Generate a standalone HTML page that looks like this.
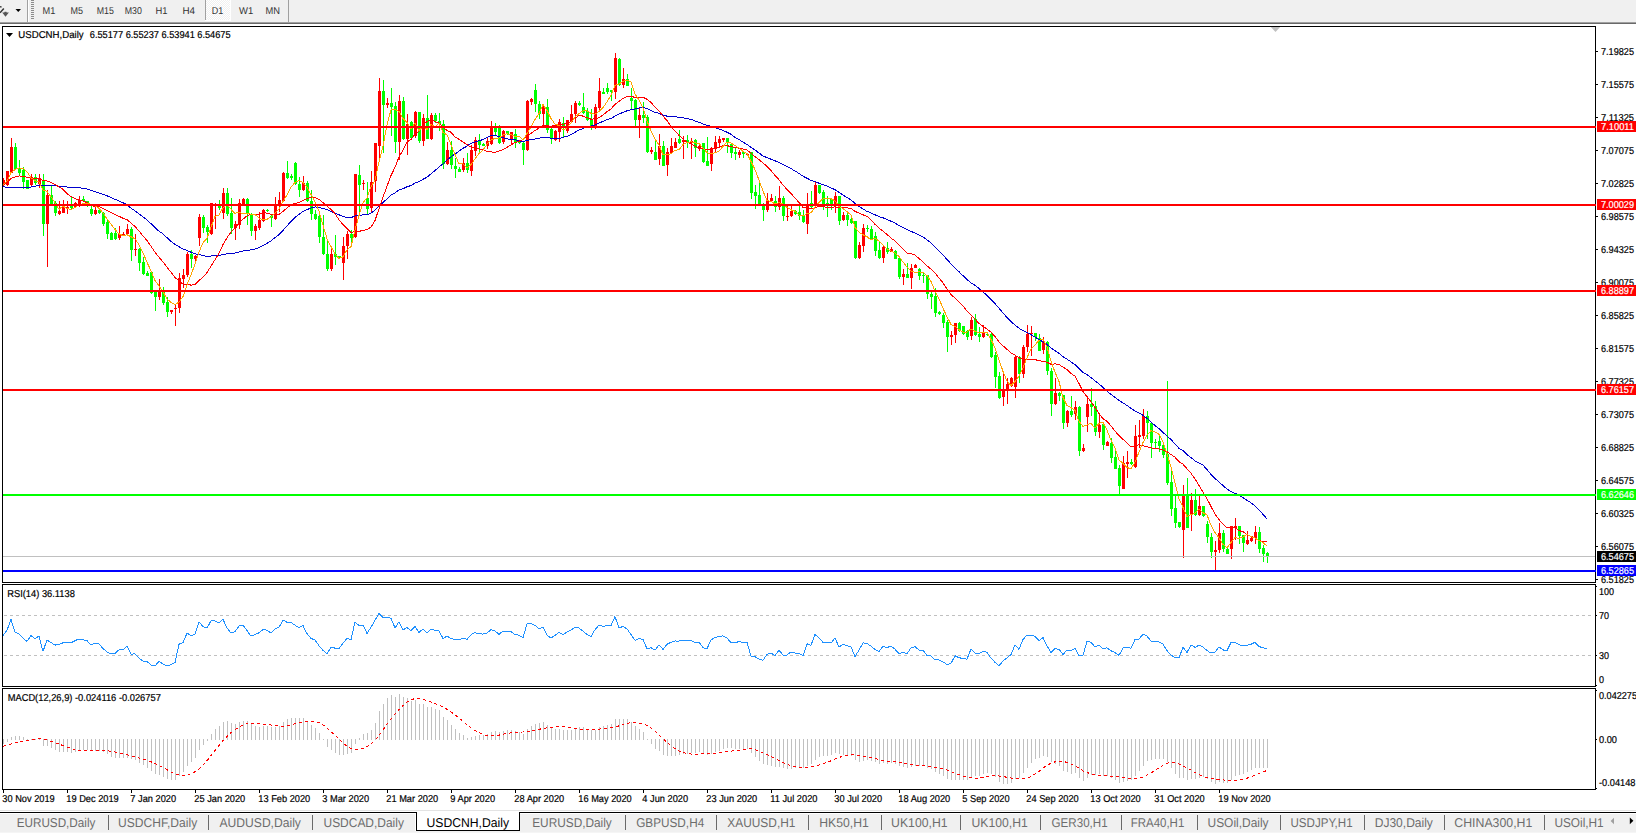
<!DOCTYPE html><html><head><meta charset="utf-8"><style>html,body{margin:0;padding:0;background:#fff;overflow:hidden}svg{display:block}text{font-family:"Liberation Sans", Arial, sans-serif;text-rendering:geometricPrecision}</style></head><body><svg width="1636" height="833" viewBox="0 0 1636 833"><rect width="1636" height="833" fill="#fff"/><rect x="0" y="0" width="1636" height="22" fill="#f0f0f0"/><rect x="0" y="22" width="1636" height="1" fill="#a0a0a0"/><rect x="0" y="23" width="1636" height="1" fill="#696969"/><path d="M0 12.8 L3.8 8.4" stroke="#333" stroke-width="1.5" fill="none"/><path d="M0 6 L1.8 6.4 L1.6 7.6 L0 7.4 Z" fill="#333"/><path d="M2.2 12.4 L4.3 12.4 L4.6 11.8 L6.4 11.8 L6.7 12.4 L8.9 12.4 L5.5 16.8 Z" fill="#555"/><path d="M15.5 9 L21 9 L18.25 12 Z" fill="#000"/><rect x="27" y="0" width="1" height="22" fill="#a0a0a0"/><rect x="28" y="0" width="1" height="22" fill="#ffffff"/><rect x="31" y="0" width="3" height="1" fill="#8c8c8c"/><rect x="31" y="2" width="3" height="1" fill="#8c8c8c"/><rect x="31" y="4" width="3" height="1" fill="#8c8c8c"/><rect x="31" y="6" width="3" height="1" fill="#8c8c8c"/><rect x="31" y="8" width="3" height="1" fill="#8c8c8c"/><rect x="31" y="10" width="3" height="1" fill="#8c8c8c"/><rect x="31" y="12" width="3" height="1" fill="#8c8c8c"/><rect x="31" y="14" width="3" height="1" fill="#8c8c8c"/><rect x="31" y="16" width="3" height="1" fill="#8c8c8c"/><rect x="31" y="18" width="3" height="1" fill="#8c8c8c"/><defs><pattern id="chk" width="2" height="2" patternUnits="userSpaceOnUse"><rect width="2" height="2" fill="#f0f0f0"/><rect width="1" height="1" fill="#fff"/><rect x="1" y="1" width="1" height="1" fill="#fff"/></pattern></defs><rect x="206" y="0" width="24" height="20" fill="url(#chk)"/><rect x="205" y="20" width="26" height="1" fill="#ffffff"/><rect x="230" y="0" width="1" height="21" fill="#ffffff"/><rect x="205" y="0" width="1" height="20" fill="#a0a0a0"/><rect x="288" y="0" width="1" height="22" fill="#a0a0a0"/><text x="42.5" y="14" font-size="10" fill="#333" textLength="12.8" lengthAdjust="spacingAndGlyphs">M1</text><text x="70.6" y="14" font-size="10" fill="#333" textLength="12.5" lengthAdjust="spacingAndGlyphs">M5</text><text x="96.8" y="14" font-size="10" fill="#333" textLength="17.1" lengthAdjust="spacingAndGlyphs">M15</text><text x="124.7" y="14" font-size="10" fill="#333" textLength="17.1" lengthAdjust="spacingAndGlyphs">M30</text><text x="155.5" y="14" font-size="10" fill="#333" textLength="12" lengthAdjust="spacingAndGlyphs">H1</text><text x="182.4" y="14" font-size="10" fill="#333" textLength="12.6" lengthAdjust="spacingAndGlyphs">H4</text><text x="211.7" y="14" font-size="10" fill="#333" textLength="11.5" lengthAdjust="spacingAndGlyphs">D1</text><text x="239" y="14" font-size="10" fill="#333" textLength="14.2" lengthAdjust="spacingAndGlyphs">W1</text><text x="265.6" y="14" font-size="10" fill="#333" textLength="14.5" lengthAdjust="spacingAndGlyphs">MN</text><rect x="3" y="27" width="1592" height="555" fill="#ffffff"/><g fill="none" stroke="#000" stroke-width="1" shape-rendering="crispEdges"><path d="M2.5 582.5 V26.5 H1595.5 V582.5 Z"/><path d="M2.5 686.5 V584.5 H1595.5 V686.5 Z"/><path d="M2.5 789.5 V688.5 H1595.5 V789.5 Z"/></g><defs><clipPath id="cm"><rect x="3" y="27" width="1592" height="555"/></clipPath><clipPath id="cr"><rect x="3" y="585" width="1592" height="101"/></clipPath><clipPath id="cd"><rect x="3" y="689" width="1592" height="100"/></clipPath></defs><g clip-path="url(#cm)" shape-rendering="crispEdges"><path fill="#ff0000" d="M3 178h1v8h-1zM2 180h3v5h-3zM7 171h1v15h-1zM6 171h3v14h-3zM11 138h1v35h-1zM10 147h3v26h-3zM31 174h1v12h-1zM30 177h3v8h-3zM39 174h1v14h-1zM38 179h3v5h-3zM47 190h1v77h-1zM46 195h3v29h-3zM59 201h1v14h-1zM58 211h3v3h-3zM63 200h1v13h-1zM62 207h3v6h-3zM67 201h1v13h-1zM66 207h3v1h-3zM75 202h1v5h-1zM74 203h3v4h-3zM79 196h1v11h-1zM78 200h3v4h-3zM95 206h1v9h-1zM94 210h3v4h-3zM119 226h1v14h-1zM118 234h3v4h-3zM123 232h1v4h-1zM122 234h3v1h-3zM127 224h1v12h-1zM126 229h3v5h-3zM135 234h1v22h-1zM134 249h3v1h-3zM159 279h1v21h-1zM158 291h3v6h-3zM171 310h1v4h-1zM170 310h3v2h-3zM175 305h1v21h-1zM174 308h3v1h-3zM179 273h1v40h-1zM178 278h3v30h-3zM183 269h1v19h-1zM182 275h3v4h-3zM187 252h1v25h-1zM186 254h3v21h-3zM195 255h1v6h-1zM194 256h3v3h-3zM199 214h1v32h-1zM198 217h3v21h-3zM211 203h1v32h-1zM210 203h3v31h-3zM215 203h1v26h-1zM214 204h3v1h-3zM223 188h1v31h-1zM222 193h3v20h-3zM235 221h1v19h-1zM234 224h3v4h-3zM239 199h1v30h-1zM238 203h3v22h-3zM243 198h1v7h-1zM242 199h3v5h-3zM255 224h1v16h-1zM254 226h3v5h-3zM259 212h1v18h-1zM258 220h3v8h-3zM263 209h1v13h-1zM262 210h3v11h-3zM275 197h1v23h-1zM274 205h3v14h-3zM279 192h1v20h-1zM278 200h3v6h-3zM283 172h1v30h-1zM282 173h3v28h-3zM303 176h1v15h-1zM302 183h3v7h-3zM331 248h1v23h-1zM330 254h3v15h-3zM343 237h1v43h-1zM342 246h3v17h-3zM347 231h1v28h-1zM346 234h3v12h-3zM355 174h1v64h-1zM354 174h3v63h-3zM363 180h1v10h-1zM362 183h3v1h-3zM371 171h1v41h-1zM370 182h3v26h-3zM375 143h1v49h-1zM374 143h3v38h-3zM379 78h1v81h-1zM378 91h3v55h-3zM387 98h1v10h-1zM386 103h3v2h-3zM399 95h1v65h-1zM398 101h3v41h-3zM407 114h1v41h-1zM406 124h3v15h-3zM415 111h1v27h-1zM414 112h3v24h-3zM423 114h1v32h-1zM422 118h3v23h-3zM431 113h1v27h-1zM430 115h3v24h-3zM447 142h1v23h-1zM446 150h3v14h-3zM463 158h1v14h-1zM462 163h3v7h-3zM471 145h1v31h-1zM470 150h3v21h-3zM475 137h1v19h-1zM474 140h3v11h-3zM487 138h1v11h-1zM486 141h3v5h-3zM491 121h1v24h-1zM490 128h3v16h-3zM503 130h1v14h-1zM502 131h3v11h-3zM511 132h1v13h-1zM510 132h3v7h-3zM527 100h1v51h-1zM526 101h3v49h-3zM531 98h1v7h-1zM530 99h3v3h-3zM543 104h1v24h-1zM542 106h3v8h-3zM555 130h1v11h-1zM554 131h3v9h-3zM559 119h1v23h-1zM558 122h3v10h-3zM567 120h1v13h-1zM566 120h3v11h-3zM571 105h1v17h-1zM570 114h3v8h-3zM575 101h1v22h-1zM574 103h3v11h-3zM595 104h1v25h-1zM594 107h3v20h-3zM599 78h1v32h-1zM598 91h3v17h-3zM615 53h1v46h-1zM614 58h3v34h-3zM623 68h1v20h-1zM622 79h3v6h-3zM639 107h1v31h-1zM638 115h3v5h-3zM651 147h1v7h-1zM650 150h3v2h-3zM659 134h1v31h-1zM658 146h3v13h-3zM667 148h1v28h-1zM666 152h3v13h-3zM671 138h1v16h-1zM670 146h3v7h-3zM675 138h1v10h-1zM674 142h3v6h-3zM683 136h1v23h-1zM682 140h3v2h-3zM691 138h1v21h-1zM690 141h3v2h-3zM699 145h1v6h-1zM698 146h3v3h-3zM711 147h1v24h-1zM710 148h3v16h-3zM715 136h1v16h-1zM714 142h3v6h-3zM719 136h1v12h-1zM718 139h3v4h-3zM723 138h1v4h-1zM722 138h3v2h-3zM739 150h1v8h-1zM738 152h3v3h-3zM747 153h1v3h-1zM746 154h3v1h-3zM767 193h1v19h-1zM766 200h3v10h-3zM771 194h1v7h-1zM770 198h3v3h-3zM779 186h1v24h-1zM778 198h3v9h-3zM787 206h1v15h-1zM786 216h3v1h-3zM791 204h1v13h-1zM790 211h3v5h-3zM807 193h1v41h-1zM806 204h3v20h-3zM815 182h1v25h-1zM814 185h3v21h-3zM835 192h1v21h-1zM834 196h3v8h-3zM843 212h1v9h-1zM842 215h3v5h-3zM859 242h1v17h-1zM858 245h3v13h-3zM863 224h1v28h-1zM862 228h3v18h-3zM883 246h1v17h-1zM882 247h3v11h-3zM891 247h1v5h-1zM890 249h3v3h-3zM903 269h1v16h-1zM902 274h3v3h-3zM911 264h1v25h-1zM910 268h3v10h-3zM915 264h1v4h-1zM914 265h3v3h-3zM951 331h1v14h-1zM950 335h3v2h-3zM955 323h1v20h-1zM954 323h3v12h-3zM971 317h1v23h-1zM970 320h3v16h-3zM983 325h1v13h-1zM982 333h3v4h-3zM1003 374h1v32h-1zM1002 390h3v7h-3zM1007 378h1v26h-1zM1006 384h3v7h-3zM1011 377h1v10h-1zM1010 378h3v8h-3zM1015 355h1v43h-1zM1014 357h3v30h-3zM1023 345h1v33h-1zM1022 347h3v27h-3zM1027 325h1v27h-1zM1026 334h3v13h-3zM1031 326h1v30h-1zM1030 333h3v1h-3zM1043 337h1v17h-1zM1042 342h3v8h-3zM1055 378h1v27h-1zM1054 393h3v11h-3zM1067 410h1v17h-1zM1066 411h3v12h-3zM1075 401h1v19h-1zM1074 407h3v7h-3zM1083 444h1v8h-1zM1082 448h3v3h-3zM1087 396h1v36h-1zM1086 404h3v13h-3zM1099 414h1v24h-1zM1098 425h3v7h-3zM1107 441h1v5h-1zM1106 442h3v4h-3zM1123 456h1v33h-1zM1122 463h3v26h-3zM1127 451h1v27h-1zM1126 462h3v2h-3zM1135 425h1v43h-1zM1134 436h3v31h-3zM1139 420h1v28h-1zM1138 435h3v2h-3zM1143 409h1v30h-1zM1142 416h3v20h-3zM1183 485h1v73h-1zM1182 496h3v34h-3zM1191 493h1v38h-1zM1190 500h3v14h-3zM1199 496h1v20h-1zM1198 506h3v9h-3zM1215 541h1v29h-1zM1214 550h3v2h-3zM1219 523h1v30h-1zM1218 533h3v17h-3zM1231 526h1v33h-1zM1230 526h3v23h-3zM1235 518h1v22h-1zM1234 526h3v2h-3zM1247 531h1v14h-1zM1246 540h3v4h-3zM1251 537h1v5h-1zM1250 538h3v3h-3zM1255 526h1v18h-1zM1254 532h3v6h-3z"/><path fill="#00ff00" d="M15 143h1v27h-1zM14 147h3v22h-3zM19 160h1v16h-1zM18 168h3v5h-3zM23 167h1v22h-1zM22 170h3v12h-3zM27 180h1v9h-1zM26 180h3v9h-3zM35 174h1v11h-1zM34 177h3v6h-3zM43 174h1v62h-1zM42 180h3v44h-3zM51 186h1v18h-1zM50 195h3v9h-3zM55 201h1v15h-1zM54 203h3v10h-3zM71 197h1v12h-1zM70 204h3v4h-3zM83 196h1v6h-1zM82 199h3v2h-3zM87 201h1v6h-1zM86 201h3v2h-3zM91 206h1v10h-1zM90 209h3v5h-3zM99 209h1v5h-1zM98 210h3v3h-3zM103 212h1v14h-1zM102 213h3v11h-3zM107 219h1v20h-1zM106 222h3v12h-3zM111 232h1v8h-1zM110 233h3v7h-3zM115 228h1v12h-1zM114 233h3v6h-3zM131 227h1v34h-1zM130 229h3v21h-3zM139 248h1v23h-1zM138 249h3v14h-3zM143 257h1v18h-1zM142 262h3v12h-3zM147 271h1v5h-1zM146 273h3v3h-3zM151 272h1v22h-1zM150 272h3v21h-3zM155 292h1v19h-1zM154 292h3v5h-3zM163 287h1v18h-1zM162 292h3v11h-3zM167 297h1v20h-1zM166 302h3v10h-3zM191 250h1v18h-1zM190 254h3v5h-3zM203 215h1v18h-1zM202 217h3v11h-3zM207 225h1v18h-1zM206 227h3v5h-3zM219 200h1v10h-1zM218 206h3v2h-3zM227 188h1v28h-1zM226 193h3v21h-3zM231 198h1v36h-1zM230 213h3v15h-3zM247 198h1v27h-1zM246 199h3v15h-3zM251 213h1v23h-1zM250 214h3v17h-3zM267 209h1v3h-1zM266 210h3v1h-3zM271 214h1v13h-1zM270 216h3v2h-3zM287 161h1v18h-1zM286 173h3v5h-3zM291 174h1v6h-1zM290 176h3v2h-3zM295 162h1v23h-1zM294 163h3v21h-3zM299 177h1v20h-1zM298 184h3v6h-3zM307 181h1v21h-1zM306 183h3v18h-3zM311 190h1v30h-1zM310 201h3v13h-3zM315 210h1v10h-1zM314 214h3v5h-3zM319 213h1v30h-1zM318 216h3v21h-3zM323 215h1v40h-1zM322 237h3v17h-3zM327 241h1v30h-1zM326 254h3v15h-3zM335 235h1v30h-1zM334 254h3v3h-3zM339 256h1v3h-1zM338 256h3v2h-3zM351 230h1v13h-1zM350 234h3v4h-3zM359 165h1v49h-1zM358 175h3v10h-3zM367 182h1v32h-1zM366 198h3v11h-3zM383 80h1v73h-1zM382 91h3v14h-3zM391 88h1v48h-1zM390 103h3v4h-3zM395 102h1v51h-1zM394 106h3v36h-3zM403 97h1v43h-1zM402 101h3v38h-3zM411 121h1v18h-1zM410 122h3v16h-3zM419 112h1v31h-1zM418 112h3v29h-3zM427 95h1v44h-1zM426 118h3v21h-3zM435 113h1v10h-1zM434 115h3v6h-3zM439 113h1v18h-1zM438 121h3v3h-3zM443 120h1v49h-1zM442 124h3v40h-3zM451 141h1v28h-1zM450 150h3v15h-3zM455 158h1v20h-1zM454 166h3v3h-3zM459 167h1v5h-1zM458 169h3v3h-3zM467 153h1v20h-1zM466 163h3v7h-3zM479 134h1v19h-1zM478 140h3v5h-3zM483 143h1v3h-1zM482 144h3v2h-3zM495 123h1v13h-1zM494 128h3v4h-3zM499 125h1v19h-1zM498 128h3v15h-3zM507 131h1v4h-1zM506 131h3v3h-3zM515 129h1v19h-1zM514 134h3v8h-3zM519 140h1v4h-1zM518 140h3v3h-3zM523 142h1v23h-1zM522 143h3v7h-3zM535 84h1v28h-1zM534 90h3v14h-3zM539 101h1v18h-1zM538 104h3v10h-3zM547 99h1v34h-1zM546 107h3v23h-3zM551 128h1v16h-1zM550 129h3v10h-3zM563 117h1v20h-1zM562 123h3v5h-3zM579 101h1v5h-1zM578 103h3v2h-3zM583 93h1v21h-1zM582 107h3v6h-3zM587 108h1v13h-1zM586 111h3v9h-3zM591 109h1v21h-1zM590 120h3v6h-3zM603 88h1v6h-1zM602 92h3v2h-3zM607 83h1v11h-1zM606 88h3v4h-3zM611 90h1v11h-1zM610 90h3v2h-3zM619 58h1v28h-1zM618 59h3v26h-3zM627 74h1v12h-1zM626 79h3v7h-3zM631 88h1v22h-1zM630 98h3v3h-3zM635 99h1v27h-1zM634 100h3v20h-3zM643 102h1v21h-1zM642 115h3v3h-3zM647 115h1v38h-1zM646 117h3v35h-3zM655 139h1v21h-1zM654 152h3v8h-3zM663 141h1v25h-1zM662 146h3v20h-3zM679 130h1v14h-1zM678 139h3v4h-3zM687 135h1v13h-1zM686 140h3v3h-3zM695 139h1v18h-1zM694 140h3v8h-3zM703 143h1v20h-1zM702 143h3v19h-3zM707 137h1v29h-1zM706 161h3v5h-3zM727 138h1v15h-1zM726 138h3v5h-3zM731 143h1v15h-1zM730 144h3v9h-3zM735 148h1v12h-1zM734 152h3v2h-3zM743 151h1v7h-1zM742 152h3v2h-3zM751 152h1v47h-1zM750 152h3v41h-3zM755 185h1v24h-1zM754 192h3v4h-3zM759 183h1v22h-1zM758 195h3v9h-3zM763 203h1v18h-1zM762 204h3v6h-3zM775 196h1v16h-1zM774 201h3v6h-3zM783 196h1v25h-1zM782 198h3v18h-3zM795 210h1v5h-1zM794 211h3v3h-3zM799 206h1v14h-1zM798 212h3v4h-3zM803 210h1v13h-1zM802 215h3v7h-3zM811 191h1v17h-1zM810 203h3v4h-3zM819 185h1v9h-1zM818 185h3v8h-3zM823 190h1v20h-1zM822 192h3v13h-3zM827 196h1v21h-1zM826 203h3v1h-3zM831 198h1v12h-1zM830 199h3v7h-3zM839 196h1v29h-1zM838 196h3v25h-3zM847 212h1v14h-1zM846 215h3v5h-3zM851 216h1v8h-1zM850 219h3v4h-3zM855 221h1v38h-1zM854 221h3v37h-3zM867 225h1v7h-1zM866 228h3v1h-3zM871 226h1v13h-1zM870 229h3v10h-3zM875 232h1v24h-1zM874 236h3v15h-3zM879 241h1v18h-1zM878 250h3v8h-3zM887 242h1v12h-1zM886 248h3v4h-3zM895 250h1v9h-1zM894 251h3v8h-3zM899 258h1v21h-1zM898 258h3v19h-3zM907 263h1v15h-1zM906 274h3v4h-3zM919 268h1v12h-1zM918 269h3v7h-3zM923 272h1v11h-1zM922 275h3v1h-3zM927 275h1v24h-1zM926 275h3v19h-3zM931 292h1v17h-1zM930 294h3v3h-3zM935 288h1v29h-1zM934 296h3v17h-3zM939 311h1v4h-1zM938 312h3v2h-3zM943 313h1v15h-1zM942 315h3v8h-3zM947 320h1v32h-1zM946 322h3v15h-3zM959 322h1v10h-1zM958 323h3v8h-3zM963 326h1v9h-1zM962 326h3v8h-3zM967 330h1v10h-1zM966 331h3v6h-3zM975 314h1v22h-1zM974 319h3v16h-3zM979 327h1v15h-1zM978 334h3v3h-3zM987 332h1v4h-1zM986 334h3v1h-3zM991 332h1v26h-1zM990 334h3v23h-3zM995 352h1v36h-1zM994 355h3v22h-3zM999 372h1v27h-1zM998 376h3v22h-3zM1019 356h1v27h-1zM1018 357h3v17h-3zM1035 333h1v8h-1zM1034 333h3v4h-3zM1039 334h1v17h-1zM1038 338h3v13h-3zM1047 341h1v34h-1zM1046 342h3v29h-3zM1051 368h1v48h-1zM1050 371h3v33h-3zM1059 392h1v9h-1zM1058 393h3v3h-3zM1063 395h1v34h-1zM1062 395h3v28h-3zM1071 396h1v21h-1zM1070 411h3v4h-3zM1079 406h1v50h-1zM1078 407h3v44h-3zM1091 388h1v28h-1zM1090 404h3v3h-3zM1095 401h1v35h-1zM1094 406h3v26h-3zM1103 424h1v26h-1zM1102 424h3v21h-3zM1111 438h1v25h-1zM1110 443h3v15h-3zM1115 451h1v18h-1zM1114 457h3v12h-3zM1119 465h1v29h-1zM1118 468h3v18h-3zM1131 459h1v6h-1zM1130 462h3v2h-3zM1147 411h1v28h-1zM1146 416h3v7h-3zM1151 422h1v36h-1zM1150 423h3v20h-3zM1155 439h1v9h-1zM1154 442h3v1h-3zM1159 436h1v16h-1zM1158 441h3v5h-3zM1163 443h1v15h-1zM1162 445h3v10h-3zM1167 381h1v104h-1zM1166 454h3v29h-3zM1171 469h1v47h-1zM1170 482h3v27h-3zM1175 496h1v32h-1zM1174 508h3v15h-3zM1179 522h1v6h-1zM1178 522h3v5h-3zM1187 478h1v50h-1zM1186 496h3v32h-3zM1195 489h1v27h-1zM1194 500h3v15h-3zM1203 506h1v11h-1zM1202 506h3v10h-3zM1207 521h1v22h-1zM1206 524h3v13h-3zM1211 533h1v25h-1zM1210 537h3v15h-3zM1223 530h1v22h-1zM1222 533h3v16h-3zM1227 548h1v6h-1zM1226 549h3v5h-3zM1239 526h1v18h-1zM1238 526h3v10h-3zM1243 535h1v17h-1zM1242 535h3v8h-3zM1259 527h1v26h-1zM1258 532h3v17h-3zM1263 545h1v17h-1zM1262 548h3v6h-3zM1267 552h1v11h-1zM1266 553h3v4h-3z"/></g><g clip-path="url(#cm)" fill="none" stroke-width="1" shape-rendering="crispEdges"><polyline stroke="#0000cd" points="3,186.6 7,187.3 11,187.1 15,187.4 19,187.5 23,187.6 27,187.7 31,187.0 35,186.3 39,185.2 43,185.6 47,185.0 51,185.0 55,185.5 59,186.1 63,186.6 67,187.0 71,187.3 75,187.5 79,187.7 83,188.2 87,189.0 91,190.3 95,191.7 99,193.0 103,194.4 107,195.8 111,197.5 115,199.3 119,201.0 123,202.8 127,204.7 131,208.2 135,210.8 139,213.8 143,216.9 147,219.8 151,223.7 155,227.5 159,231.2 163,233.8 167,237.7 171,241.3 175,244.4 179,246.7 183,248.9 187,250.5 191,252.2 195,253.9 199,254.5 203,255.4 207,256.4 211,256.0 215,255.8 219,255.6 223,254.6 227,253.9 231,253.5 235,253.0 239,252.0 243,250.9 247,250.4 251,249.8 255,249.0 259,247.6 263,245.4 267,243.3 271,240.8 275,237.7 279,234.7 283,230.4 287,225.9 291,221.5 295,217.4 299,214.4 303,211.4 307,209.6 311,208.1 315,206.9 319,207.6 323,208.5 327,209.7 331,211.4 335,213.2 339,214.8 343,216.6 347,217.3 351,217.6 355,216.0 359,215.4 363,214.8 367,214.7 371,213.0 375,210.3 379,206.0 383,202.5 387,198.9 391,195.2 395,193.1 399,189.8 403,188.7 407,186.8 411,185.5 415,183.1 419,181.5 423,179.3 427,177.2 431,173.9 435,170.6 439,166.9 443,163.8 447,159.9 451,156.9 455,154.0 459,151.1 463,148.3 467,146.2 471,143.3 475,142.1 479,140.8 483,139.5 487,137.3 491,135.5 495,135.1 499,136.9 503,137.7 507,138.8 511,139.6 515,139.6 519,141.0 523,141.3 527,140.6 531,139.3 535,139.0 539,138.1 543,137.7 547,137.4 551,138.3 555,138.6 559,138.5 563,137.3 567,136.3 571,134.6 575,132.3 579,130.1 583,128.5 587,126.8 591,126.0 595,124.9 599,123.1 603,121.4 607,119.7 611,118.5 615,116.1 619,114.1 623,112.4 627,110.8 631,109.7 635,109.0 639,108.1 643,107.0 647,108.7 651,110.4 655,112.3 659,113.3 663,115.3 667,116.1 671,116.3 675,116.7 679,117.4 683,117.8 687,118.5 691,119.4 695,120.9 699,122.3 703,124.0 707,125.5 711,126.2 715,127.4 719,129.0 723,130.5 727,132.2 731,134.2 735,137.4 739,139.6 743,142.1 747,144.4 751,147.5 755,150.0 759,153.0 763,156.0 767,157.6 771,159.2 775,160.8 779,162.6 783,164.3 787,166.4 791,168.6 795,171.0 799,173.4 803,176.2 807,178.2 811,180.4 815,181.7 819,183.2 823,184.7 827,185.9 831,187.9 835,189.7 839,192.4 843,195.0 847,197.5 851,199.9 855,203.3 859,206.4 863,208.9 867,211.4 871,212.9 875,214.8 879,216.6 883,217.8 887,219.6 891,221.2 895,222.9 899,225.6 903,227.5 907,229.5 911,231.4 915,233.1 919,235.1 923,236.8 927,239.9 931,242.8 935,247.1 939,251.2 943,255.1 947,259.5 951,263.8 955,268.0 959,271.7 963,275.7 967,279.6 971,282.8 975,285.4 979,288.4 983,291.9 987,295.4 991,299.4 995,303.6 999,308.3 1003,313.0 1007,317.4 1011,321.7 1015,325.0 1019,328.2 1023,330.7 1027,332.5 1031,334.7 1035,337.1 1039,339.6 1043,341.8 1047,344.4 1051,348.0 1055,350.7 1059,353.4 1063,356.7 1067,359.2 1071,361.9 1075,364.7 1079,368.7 1083,372.5 1087,374.7 1091,377.6 1095,380.8 1099,383.8 1103,387.5 1107,391.1 1111,394.4 1115,397.5 1119,400.4 1123,402.9 1127,405.5 1131,408.3 1135,411.0 1139,413.0 1143,415.3 1147,418.3 1151,422.0 1155,425.5 1159,428.7 1163,432.4 1167,436.1 1171,439.6 1175,443.9 1179,448.3 1183,450.7 1187,454.6 1191,457.5 1195,461.0 1199,462.9 1203,465.1 1207,469.6 1211,474.4 1215,478.4 1219,482.0 1223,485.5 1227,489.2 1231,491.5 1235,493.4 1239,495.1 1243,497.7 1247,500.3 1251,502.8 1255,506.0 1259,509.8 1263,514.4 1267,518.9"/><polyline stroke="#ff0000" points="3,184.4 7,182.4 11,178.6 15,176.9 19,176.0 23,176.1 27,177.2 31,177.7 35,178.4 39,178.2 43,180.4 47,180.9 51,182.2 55,184.6 59,186.8 63,189.4 67,193.7 71,196.5 75,198.7 79,200.0 83,200.9 87,202.7 91,204.9 95,207.2 99,206.4 103,208.5 107,210.6 111,212.5 115,214.5 119,216.3 123,218.2 127,219.7 131,223.0 135,226.5 139,230.9 143,236.0 147,240.4 151,246.3 155,252.3 159,257.1 163,262.0 167,267.2 171,272.3 175,277.6 179,280.8 183,284.1 187,284.4 191,285.1 195,284.6 199,280.5 203,277.1 207,272.7 211,266.1 215,259.8 219,253.1 223,244.6 227,237.7 231,232.0 235,228.1 239,223.0 243,219.1 247,215.9 251,214.0 255,214.7 259,214.1 263,212.6 267,213.1 271,214.2 275,214.0 279,214.5 283,211.5 287,207.9 291,204.7 295,203.3 299,202.7 303,200.5 307,198.4 311,197.5 315,197.5 319,199.4 323,202.6 327,206.1 331,209.6 335,213.7 339,219.8 343,224.7 347,228.7 351,232.5 355,231.4 359,231.5 363,230.2 367,229.8 371,227.1 375,220.5 379,208.8 383,197.1 387,186.3 391,175.6 395,167.3 399,157.0 403,150.2 407,142.0 411,139.4 415,134.2 419,131.2 423,124.7 427,121.6 431,119.5 435,121.7 439,123.1 443,127.4 447,130.5 451,132.2 455,137.0 459,139.3 463,142.1 467,144.4 471,147.2 475,147.1 479,149.0 483,149.5 487,151.4 491,151.9 495,152.5 499,151.0 503,149.6 507,147.4 511,144.8 515,142.6 519,141.2 523,139.8 527,136.3 531,133.4 535,130.4 539,128.1 543,125.6 547,125.8 551,126.3 555,125.4 559,124.7 563,124.3 567,123.4 571,121.4 575,118.5 579,115.3 583,116.1 587,117.7 591,119.2 595,118.8 599,117.7 603,115.1 607,111.7 611,109.0 615,104.4 619,101.4 623,98.5 627,96.5 631,96.3 635,97.4 639,97.5 643,97.3 647,99.2 651,102.3 655,107.2 659,110.9 663,116.2 667,120.5 671,126.7 675,130.8 679,135.3 683,139.2 687,142.2 691,143.7 695,146.1 699,148.1 703,148.8 707,150.0 711,149.1 715,148.8 719,146.9 723,145.9 727,145.7 731,146.5 735,147.4 739,148.2 743,149.0 747,149.9 751,153.2 755,156.7 759,159.7 763,162.8 767,166.5 771,170.6 775,175.4 779,179.7 783,185.0 787,189.5 791,193.5 795,198.0 799,202.4 803,207.4 807,208.1 811,209.0 815,207.6 819,206.4 823,206.8 827,207.2 831,207.1 835,207.0 839,207.3 843,207.2 847,207.8 851,208.4 855,211.4 859,213.0 863,214.8 867,216.3 871,220.1 875,224.3 879,228.1 883,231.1 887,234.4 891,238.1 895,240.9 899,245.3 903,249.1 907,253.0 911,253.7 915,255.1 919,258.5 923,261.8 927,265.8 931,269.1 935,273.1 939,277.9 943,282.9 947,289.2 951,294.6 955,298.0 959,302.0 963,306.0 967,311.0 971,314.9 975,319.2 979,323.5 983,326.3 987,329.0 991,332.1 995,336.6 999,342.0 1003,345.8 1007,349.3 1011,353.2 1015,355.1 1019,357.9 1023,358.7 1027,359.6 1031,359.5 1035,359.5 1039,360.8 1043,361.3 1047,362.3 1051,364.3 1055,363.9 1059,364.4 1063,367.2 1067,369.5 1071,373.6 1075,376.0 1079,383.5 1083,391.6 1087,396.7 1091,401.7 1095,407.4 1099,413.4 1103,418.6 1107,421.3 1111,425.9 1115,431.1 1119,435.6 1123,439.3 1127,442.7 1131,446.8 1135,445.7 1139,444.8 1143,445.6 1147,446.8 1151,447.6 1155,448.9 1159,449.0 1163,449.9 1167,451.7 1171,454.5 1175,457.2 1179,461.7 1183,464.2 1187,468.7 1191,473.3 1195,479.0 1199,485.4 1203,492.0 1207,498.7 1211,506.5 1215,514.0 1219,519.6 1223,524.3 1227,527.6 1231,527.8 1235,527.8 1239,530.6 1243,531.7 1247,534.6 1251,536.3 1255,538.1 1259,540.5 1263,541.7 1267,542.0"/><polyline stroke="#ffa500" points="3,185.0 7,180.9 11,172.6 15,169.5 19,167.9 23,168.3 27,171.8 31,177.8 35,180.6 39,181.8 43,190.2 47,191.4 51,196.8 55,202.8 59,209.3 63,206.1 67,208.5 71,209.4 75,207.4 79,205.0 83,203.8 87,203.1 91,204.3 95,205.7 99,208.4 103,212.8 107,218.9 111,224.0 115,229.6 119,233.8 123,235.8 127,234.8 131,236.8 135,238.8 139,244.7 143,252.8 147,262.2 151,270.9 155,280.4 159,286.0 163,291.7 167,299.0 171,302.4 175,304.6 179,302.1 183,296.6 187,285.0 191,274.7 195,264.4 199,252.1 203,242.7 207,238.3 211,227.2 215,216.6 219,214.9 223,207.9 227,204.3 231,209.3 235,213.3 239,212.4 243,213.6 247,213.6 251,214.1 255,214.5 259,217.9 263,220.0 267,219.4 271,216.9 275,212.8 279,208.8 283,201.5 287,194.9 291,186.9 295,182.6 299,180.5 303,182.6 307,187.3 311,194.5 315,201.6 319,211.0 323,225.3 327,238.7 331,246.6 335,254.1 339,258.4 343,256.8 347,249.9 351,246.6 355,230.2 359,215.5 363,202.8 367,197.8 371,186.6 375,180.4 379,161.7 383,146.0 387,124.8 391,109.8 395,109.6 399,111.6 403,118.5 407,122.6 411,128.9 415,122.7 419,130.6 423,126.4 427,129.4 431,124.7 435,126.6 439,123.4 443,132.5 447,134.8 451,144.9 455,154.5 459,164.0 463,163.8 467,167.8 471,164.7 475,158.9 479,153.5 483,150.1 487,144.3 491,140.0 495,138.4 499,138.1 503,135.1 507,133.7 511,134.6 515,136.4 519,136.3 523,140.2 527,133.6 531,126.9 535,119.4 539,113.5 543,104.6 547,110.5 551,118.6 555,124.0 559,125.6 563,129.9 567,127.9 571,122.7 575,117.1 579,113.7 583,110.8 587,110.9 591,113.4 595,114.2 599,111.5 603,107.6 607,101.9 611,95.2 615,85.4 619,84.2 623,81.3 627,80.0 631,81.8 635,94.1 639,100.0 643,107.7 647,121.0 651,130.8 655,138.9 659,145.1 663,154.8 667,154.6 671,153.9 675,150.3 679,149.7 683,144.5 687,142.7 691,141.7 695,142.8 699,143.5 703,147.9 707,152.6 711,153.9 715,152.8 719,151.3 723,146.5 727,142.0 731,143.1 735,145.6 739,148.1 743,151.3 747,153.4 751,161.4 755,169.6 759,180.1 763,191.1 767,200.4 771,201.5 775,203.9 779,202.7 783,204.1 787,207.3 791,209.8 795,211.2 799,214.9 803,216.1 807,213.6 811,212.9 815,207.1 819,202.3 823,198.8 827,198.9 831,198.7 835,200.8 839,206.4 843,208.5 847,211.6 851,215.0 855,227.4 859,232.3 863,234.8 867,236.7 871,239.8 875,238.3 879,240.9 883,244.7 887,249.2 891,251.2 895,252.9 899,256.6 903,262.0 907,267.2 911,271.0 915,272.2 919,271.9 923,272.3 927,275.6 931,281.4 935,291.2 939,298.8 943,308.3 947,316.7 951,324.4 955,326.3 959,329.7 963,332.0 967,332.0 971,328.9 975,331.3 979,332.5 983,332.3 987,332.0 991,339.4 995,347.7 999,360.0 1003,371.4 1007,381.2 1011,385.4 1015,381.4 1019,376.4 1023,367.9 1027,357.8 1031,348.9 1035,344.9 1039,340.4 1043,339.3 1047,346.9 1051,361.1 1055,372.3 1059,381.4 1063,397.6 1067,405.5 1071,407.6 1075,410.4 1079,421.3 1083,426.4 1087,425.0 1091,423.3 1095,428.3 1099,423.1 1103,422.5 1107,430.0 1111,440.3 1115,447.6 1119,459.8 1123,463.5 1127,467.6 1131,468.7 1135,462.3 1139,452.0 1143,442.6 1147,434.9 1151,430.7 1155,432.1 1159,434.3 1163,442.0 1167,453.9 1171,467.0 1175,482.9 1179,499.2 1183,507.4 1187,516.4 1191,514.7 1195,513.1 1199,509.0 1203,512.8 1207,514.8 1211,525.3 1215,532.4 1219,537.7 1223,544.4 1227,547.7 1231,542.5 1235,537.7 1239,538.3 1243,537.1 1247,534.4 1251,536.7 1255,538.0 1259,540.5 1263,542.7 1267,545.9"/></g><rect x="3" y="126" width="1593" height="2" fill="#ff0000"/><rect x="3" y="204" width="1593" height="2" fill="#ff0000"/><rect x="3" y="290" width="1593" height="2" fill="#ff0000"/><rect x="3" y="389" width="1593" height="2" fill="#ff0000"/><rect x="3" y="494" width="1593" height="2" fill="#00ff00"/><rect x="3" y="570" width="1593" height="2" fill="#0000ff"/><rect x="3" y="556" width="1592" height="1" fill="#c0c0c0"/><path d="M1270.8 27 L1280.2 27 L1275.5 32 Z" fill="#c0c0c0"/><rect x="1596" y="579" width="2" height="1" fill="#000"/><text x="1601" y="583" font-size="10" fill="#000" textLength="33" lengthAdjust="spacingAndGlyphs" stroke="#000" stroke-width="0.2">6.51825</text><rect x="1596" y="546" width="2" height="1" fill="#000"/><text x="1601" y="550" font-size="10" fill="#000" textLength="33" lengthAdjust="spacingAndGlyphs" stroke="#000" stroke-width="0.2">6.56075</text><rect x="1596" y="513" width="2" height="1" fill="#000"/><text x="1601" y="517" font-size="10" fill="#000" textLength="33" lengthAdjust="spacingAndGlyphs" stroke="#000" stroke-width="0.2">6.60325</text><rect x="1596" y="480" width="2" height="1" fill="#000"/><text x="1601" y="484" font-size="10" fill="#000" textLength="33" lengthAdjust="spacingAndGlyphs" stroke="#000" stroke-width="0.2">6.64575</text><rect x="1596" y="447" width="2" height="1" fill="#000"/><text x="1601" y="451" font-size="10" fill="#000" textLength="33" lengthAdjust="spacingAndGlyphs" stroke="#000" stroke-width="0.2">6.68825</text><rect x="1596" y="414" width="2" height="1" fill="#000"/><text x="1601" y="418" font-size="10" fill="#000" textLength="33" lengthAdjust="spacingAndGlyphs" stroke="#000" stroke-width="0.2">6.73075</text><rect x="1596" y="381" width="2" height="1" fill="#000"/><text x="1601" y="385" font-size="10" fill="#000" textLength="33" lengthAdjust="spacingAndGlyphs" stroke="#000" stroke-width="0.2">6.77325</text><rect x="1596" y="348" width="2" height="1" fill="#000"/><text x="1601" y="352" font-size="10" fill="#000" textLength="33" lengthAdjust="spacingAndGlyphs" stroke="#000" stroke-width="0.2">6.81575</text><rect x="1596" y="315" width="2" height="1" fill="#000"/><text x="1601" y="319" font-size="10" fill="#000" textLength="33" lengthAdjust="spacingAndGlyphs" stroke="#000" stroke-width="0.2">6.85825</text><rect x="1596" y="282" width="2" height="1" fill="#000"/><text x="1601" y="286" font-size="10" fill="#000" textLength="33" lengthAdjust="spacingAndGlyphs" stroke="#000" stroke-width="0.2">6.90075</text><rect x="1596" y="249" width="2" height="1" fill="#000"/><text x="1601" y="253" font-size="10" fill="#000" textLength="33" lengthAdjust="spacingAndGlyphs" stroke="#000" stroke-width="0.2">6.94325</text><rect x="1596" y="216" width="2" height="1" fill="#000"/><text x="1601" y="220" font-size="10" fill="#000" textLength="33" lengthAdjust="spacingAndGlyphs" stroke="#000" stroke-width="0.2">6.98575</text><rect x="1596" y="183" width="2" height="1" fill="#000"/><text x="1601" y="187" font-size="10" fill="#000" textLength="33" lengthAdjust="spacingAndGlyphs" stroke="#000" stroke-width="0.2">7.02825</text><rect x="1596" y="150" width="2" height="1" fill="#000"/><text x="1601" y="154" font-size="10" fill="#000" textLength="33" lengthAdjust="spacingAndGlyphs" stroke="#000" stroke-width="0.2">7.07075</text><rect x="1596" y="117" width="2" height="1" fill="#000"/><text x="1601" y="121" font-size="10" fill="#000" textLength="33" lengthAdjust="spacingAndGlyphs" stroke="#000" stroke-width="0.2">7.11325</text><rect x="1596" y="84" width="2" height="1" fill="#000"/><text x="1601" y="88" font-size="10" fill="#000" textLength="33" lengthAdjust="spacingAndGlyphs" stroke="#000" stroke-width="0.2">7.15575</text><rect x="1596" y="51" width="2" height="1" fill="#000"/><text x="1601" y="55" font-size="10" fill="#000" textLength="33" lengthAdjust="spacingAndGlyphs" stroke="#000" stroke-width="0.2">7.19825</text><rect x="1597" y="121" width="39" height="11" fill="#ff0000"/><text x="1601" y="130" font-size="10" fill="#ffffff" textLength="33" lengthAdjust="spacingAndGlyphs" stroke="#ffffff" stroke-width="0.2">7.10011</text><rect x="1597" y="199" width="39" height="11" fill="#ff0000"/><text x="1601" y="208" font-size="10" fill="#ffffff" textLength="33" lengthAdjust="spacingAndGlyphs" stroke="#ffffff" stroke-width="0.2">7.00029</text><rect x="1597" y="285" width="39" height="11" fill="#ff0000"/><text x="1601" y="294" font-size="10" fill="#ffffff" textLength="33" lengthAdjust="spacingAndGlyphs" stroke="#ffffff" stroke-width="0.2">6.88897</text><rect x="1597" y="384" width="39" height="11" fill="#ff0000"/><text x="1601" y="393" font-size="10" fill="#ffffff" textLength="33" lengthAdjust="spacingAndGlyphs" stroke="#ffffff" stroke-width="0.2">6.76157</text><rect x="1597" y="489" width="39" height="11" fill="#00ff00"/><text x="1601" y="498" font-size="10" fill="#ffffff" textLength="33" lengthAdjust="spacingAndGlyphs" stroke="#ffffff" stroke-width="0.2">6.62646</text><rect x="1597" y="565" width="39" height="11" fill="#0000ff"/><text x="1601" y="574" font-size="10" fill="#ffffff" textLength="33" lengthAdjust="spacingAndGlyphs" stroke="#ffffff" stroke-width="0.2">6.52865</text><rect x="1597" y="551" width="39" height="11" fill="#000000"/><text x="1601" y="560" font-size="10" fill="#ffffff" textLength="33" lengthAdjust="spacingAndGlyphs" stroke="#ffffff" stroke-width="0.2">6.54675</text><path d="M6 33 L13 33 L9.5 37 Z" fill="#000"/><text x="18.3" y="38" font-size="10" fill="#000" textLength="65.3" lengthAdjust="spacingAndGlyphs" stroke="#000" stroke-width="0.2">USDCNH,Daily</text><text x="89.8" y="38" font-size="10" fill="#000" textLength="140.8" lengthAdjust="spacingAndGlyphs" stroke="#000" stroke-width="0.2">6.55177 6.55237 6.53941 6.54675</text><g clip-path="url(#cr)" shape-rendering="crispEdges"><path d="M4 615.5 H1594" stroke="#c0c0c0" stroke-width="1" stroke-dasharray="3,3"/><path d="M4 655.5 H1594" stroke="#c0c0c0" stroke-width="1" stroke-dasharray="3,3"/></g><g clip-path="url(#cr)" fill="none" shape-rendering="crispEdges"><polyline stroke="#1e90ff" stroke-width="1" points="3,635.5 7,630.3 11,619.4 15,632.3 19,634.0 23,638.2 27,641.3 31,635.6 35,638.5 39,636.2 43,651.3 47,640.0 51,642.5 55,645.1 59,644.3 63,642.8 67,642.6 71,642.9 75,640.7 79,639.0 83,639.8 87,640.6 91,645.1 95,643.1 99,644.1 103,648.5 107,652.0 111,654.0 115,653.4 119,649.8 123,649.8 127,646.1 131,654.3 135,653.7 139,658.1 143,661.0 147,661.4 151,665.1 155,665.9 159,661.4 163,664.0 167,665.8 171,664.6 175,662.7 179,644.2 183,642.5 187,633.2 191,635.5 195,634.3 199,621.8 203,626.5 207,628.1 211,620.8 215,620.9 219,622.9 223,619.2 227,628.0 231,632.9 235,631.6 239,626.0 243,624.9 247,630.6 251,636.1 255,634.6 259,632.8 263,629.7 267,630.1 271,633.1 275,628.9 279,627.2 283,620.1 287,622.2 291,622.4 295,625.2 299,627.7 303,625.6 307,633.6 311,638.4 315,640.1 319,645.7 323,650.4 327,653.6 331,647.4 335,648.1 339,648.5 343,643.3 347,638.4 351,639.7 355,622.1 359,625.5 363,625.2 367,633.4 371,627.2 375,620.3 379,613.6 383,617.3 387,617.1 391,618.2 395,628.0 399,621.7 403,630.0 407,627.6 411,630.6 415,626.5 419,632.4 423,628.9 427,632.8 431,629.1 435,630.4 439,631.0 443,638.5 447,636.0 451,638.7 455,639.4 459,639.9 463,637.9 467,639.5 471,634.7 475,632.6 479,633.8 483,634.1 487,632.9 491,629.7 495,631.0 499,634.4 503,631.0 507,632.0 511,631.6 515,634.8 519,635.1 523,637.9 527,623.9 531,623.5 535,625.3 539,628.9 543,626.9 547,635.2 551,638.0 555,635.3 559,632.5 563,634.5 567,632.2 571,630.2 575,627.0 579,627.9 583,631.2 587,634.3 591,636.4 595,629.7 599,625.0 603,626.2 607,625.7 611,625.7 615,616.6 619,628.0 623,626.4 627,628.9 631,634.4 635,640.3 639,638.6 643,639.4 647,648.7 651,647.7 655,650.1 659,644.7 663,649.4 667,644.3 671,642.3 675,641.0 679,641.1 683,640.1 687,641.0 691,640.3 695,642.6 699,642.1 703,647.6 707,648.9 711,639.9 715,637.6 719,636.2 723,635.9 727,638.2 731,642.4 735,643.0 739,641.4 743,642.7 747,642.1 751,656.1 755,656.8 759,658.9 763,660.2 767,654.3 771,653.0 775,655.7 779,650.0 783,655.3 787,655.0 791,652.0 795,653.0 799,653.7 803,655.6 807,643.8 811,645.3 815,634.6 819,637.8 823,642.4 827,642.1 831,643.0 835,637.8 839,647.0 843,644.2 847,645.8 851,646.9 855,656.5 859,650.2 863,642.9 867,643.3 871,646.2 875,649.4 879,651.4 883,646.2 887,647.6 891,646.1 895,649.2 899,653.8 903,652.4 907,653.4 911,648.0 915,646.7 919,650.1 923,650.1 927,655.4 931,655.9 935,659.8 939,659.9 943,661.8 947,664.5 951,663.4 955,655.8 959,657.7 963,658.5 967,659.2 971,648.9 975,653.3 979,653.7 983,651.5 987,652.2 991,658.2 995,662.3 999,665.8 1003,661.0 1007,657.8 1011,654.6 1015,644.8 1019,649.3 1023,639.4 1027,635.2 1031,635.1 1035,636.3 1039,640.8 1043,637.5 1047,645.9 1051,652.7 1055,648.7 1059,649.4 1063,654.4 1067,650.1 1071,650.9 1075,648.1 1079,656.0 1083,655.1 1087,641.5 1091,642.1 1095,647.1 1099,645.1 1103,648.8 1107,647.8 1111,650.8 1115,652.6 1119,655.4 1123,648.0 1127,647.7 1131,648.1 1135,639.6 1139,639.2 1143,634.1 1147,636.1 1151,641.1 1155,641.2 1159,641.8 1163,644.2 1167,650.5 1171,655.2 1175,657.4 1179,658.0 1183,647.2 1187,652.6 1191,644.8 1195,647.4 1199,645.1 1203,646.9 1207,650.6 1211,653.0 1215,652.3 1219,646.9 1223,649.9 1227,650.7 1231,642.4 1235,642.3 1239,644.6 1243,646.1 1247,645.2 1251,644.2 1255,642.3 1259,646.5 1263,647.9 1267,648.5"/></g><rect x="1596" y="586" width="1" height="1" fill="#000"/><rect x="1596" y="615" width="1" height="1" fill="#000"/><rect x="1596" y="655" width="1" height="1" fill="#000"/><rect x="1596" y="685" width="1" height="1" fill="#000"/><text x="1599" y="595" font-size="10" fill="#000" textLength="15" lengthAdjust="spacingAndGlyphs" stroke="#000" stroke-width="0.2">100</text><text x="1599" y="619" font-size="10" fill="#000" textLength="10" lengthAdjust="spacingAndGlyphs" stroke="#000" stroke-width="0.2">70</text><text x="1599" y="659" font-size="10" fill="#000" textLength="10" lengthAdjust="spacingAndGlyphs" stroke="#000" stroke-width="0.2">30</text><text x="1599" y="683" font-size="10" fill="#000" textLength="5" lengthAdjust="spacingAndGlyphs" stroke="#000" stroke-width="0.2">0</text><text x="7.2" y="597" font-size="10" fill="#000" textLength="67.69" lengthAdjust="spacingAndGlyphs" stroke="#000" stroke-width="0.2">RSI(14) 36.1138</text><g clip-path="url(#cd)" shape-rendering="crispEdges"><path fill="#c0c0c0" d="M3 739h1v5h-1zM7 739h1v3h-1zM11 737h1v3h-1zM15 736h1v4h-1zM19 736h1v4h-1zM23 737h1v3h-1zM27 739h1v1h-1zM31 739h1v1h-1zM35 739h1v1h-1zM39 739h1v1h-1zM43 739h1v7h-1zM47 739h1v7h-1zM51 739h1v9h-1zM55 739h1v11h-1zM59 739h1v13h-1zM63 739h1v13h-1zM67 739h1v13h-1zM71 739h1v14h-1zM75 739h1v13h-1zM79 739h1v12h-1zM83 739h1v11h-1zM87 739h1v11h-1zM91 739h1v12h-1zM95 739h1v12h-1zM99 739h1v12h-1zM103 739h1v13h-1zM107 739h1v15h-1zM111 739h1v18h-1zM115 739h1v19h-1zM119 739h1v19h-1zM123 739h1v19h-1zM127 739h1v19h-1zM131 739h1v20h-1zM135 739h1v21h-1zM139 739h1v24h-1zM143 739h1v26h-1zM147 739h1v29h-1zM151 739h1v32h-1zM155 739h1v35h-1zM159 739h1v36h-1zM163 739h1v38h-1zM167 739h1v40h-1zM171 739h1v41h-1zM175 739h1v41h-1zM179 739h1v37h-1zM183 739h1v33h-1zM187 739h1v27h-1zM191 739h1v23h-1zM195 739h1v19h-1zM199 739h1v11h-1zM203 739h1v6h-1zM207 739h1v2h-1zM211 734h1v6h-1zM215 729h1v11h-1zM219 726h1v14h-1zM223 722h1v18h-1zM227 721h1v19h-1zM231 723h1v17h-1zM235 724h1v16h-1zM239 722h1v18h-1zM243 721h1v19h-1zM247 721h1v19h-1zM251 724h1v16h-1zM255 726h1v14h-1zM259 727h1v13h-1zM263 726h1v14h-1zM267 726h1v14h-1zM271 727h1v13h-1zM275 727h1v13h-1zM279 726h1v14h-1zM283 722h1v18h-1zM287 719h1v21h-1zM291 718h1v22h-1zM295 718h1v22h-1zM299 718h1v22h-1zM303 718h1v22h-1zM307 721h1v19h-1zM311 725h1v15h-1zM315 728h1v12h-1zM319 733h1v7h-1zM323 739h1v1h-1zM327 739h1v8h-1zM331 739h1v11h-1zM335 739h1v14h-1zM339 739h1v16h-1zM343 739h1v16h-1zM347 739h1v15h-1zM351 739h1v14h-1zM355 739h1v5h-1zM359 738h1v2h-1zM363 734h1v6h-1zM367 733h1v7h-1zM371 730h1v10h-1zM375 723h1v17h-1zM379 711h1v29h-1zM383 704h1v36h-1zM387 698h1v42h-1zM391 695h1v45h-1zM395 697h1v43h-1zM399 694h1v46h-1zM403 697h1v43h-1zM407 698h1v42h-1zM411 701h1v39h-1zM415 700h1v40h-1zM419 704h1v36h-1zM423 704h1v36h-1zM427 707h1v33h-1zM431 707h1v33h-1zM435 709h1v31h-1zM439 710h1v30h-1zM443 717h1v23h-1zM447 720h1v20h-1zM451 725h1v15h-1zM455 729h1v11h-1zM459 733h1v7h-1zM463 735h1v5h-1zM467 738h1v2h-1zM471 737h1v3h-1zM475 736h1v4h-1zM479 735h1v5h-1zM483 735h1v5h-1zM487 734h1v6h-1zM491 732h1v8h-1zM495 731h1v9h-1zM499 732h1v8h-1zM503 731h1v9h-1zM507 730h1v10h-1zM511 730h1v10h-1zM515 731h1v9h-1zM519 732h1v8h-1zM523 734h1v6h-1zM527 729h1v11h-1zM531 726h1v14h-1zM535 724h1v16h-1zM539 723h1v17h-1zM543 722h1v18h-1zM547 725h1v15h-1zM551 728h1v12h-1zM555 729h1v11h-1zM559 729h1v11h-1zM563 730h1v10h-1zM567 730h1v10h-1zM571 730h1v10h-1zM575 728h1v12h-1zM579 727h1v13h-1zM583 727h1v13h-1zM587 729h1v11h-1zM591 730h1v10h-1zM595 730h1v10h-1zM599 727h1v13h-1zM603 726h1v14h-1zM607 725h1v15h-1zM611 724h1v16h-1zM615 719h1v21h-1zM619 719h1v21h-1zM623 719h1v21h-1zM627 719h1v21h-1zM631 722h1v18h-1zM635 726h1v14h-1zM639 729h1v11h-1zM643 732h1v8h-1zM647 739h1v1h-1zM651 739h1v5h-1zM655 739h1v10h-1zM659 739h1v12h-1zM663 739h1v16h-1zM667 739h1v17h-1zM671 739h1v17h-1zM675 739h1v17h-1zM679 739h1v16h-1zM683 739h1v15h-1zM687 739h1v15h-1zM691 739h1v14h-1zM695 739h1v14h-1zM699 739h1v13h-1zM703 739h1v15h-1zM707 739h1v16h-1zM711 739h1v15h-1zM715 739h1v13h-1zM719 739h1v12h-1zM723 739h1v10h-1zM727 739h1v9h-1zM731 739h1v9h-1zM735 739h1v10h-1zM739 739h1v10h-1zM743 739h1v10h-1zM747 739h1v10h-1zM751 739h1v14h-1zM755 739h1v18h-1zM759 739h1v22h-1zM763 739h1v25h-1zM767 739h1v26h-1zM771 739h1v27h-1zM775 739h1v28h-1zM779 739h1v28h-1zM783 739h1v29h-1zM787 739h1v30h-1zM791 739h1v30h-1zM795 739h1v29h-1zM799 739h1v29h-1zM803 739h1v29h-1zM807 739h1v27h-1zM811 739h1v25h-1zM815 739h1v21h-1zM819 739h1v18h-1zM823 739h1v17h-1zM827 739h1v17h-1zM831 739h1v16h-1zM835 739h1v14h-1zM839 739h1v15h-1zM843 739h1v16h-1zM847 739h1v16h-1zM851 739h1v17h-1zM855 739h1v21h-1zM859 739h1v23h-1zM863 739h1v22h-1zM867 739h1v21h-1zM871 739h1v22h-1zM875 739h1v23h-1zM879 739h1v25h-1zM883 739h1v24h-1zM887 739h1v25h-1zM891 739h1v24h-1zM895 739h1v25h-1zM899 739h1v27h-1zM903 739h1v28h-1zM907 739h1v29h-1zM911 739h1v28h-1zM915 739h1v27h-1zM919 739h1v27h-1zM923 739h1v27h-1zM927 739h1v29h-1zM931 739h1v30h-1zM935 739h1v33h-1zM939 739h1v35h-1zM943 739h1v37h-1zM947 739h1v40h-1zM951 739h1v41h-1zM955 739h1v41h-1zM959 739h1v41h-1zM963 739h1v41h-1zM967 739h1v41h-1zM971 739h1v38h-1zM975 739h1v37h-1zM979 739h1v37h-1zM983 739h1v35h-1zM987 739h1v34h-1zM991 739h1v35h-1zM995 739h1v38h-1zM999 739h1v43h-1zM1003 739h1v45h-1zM1007 739h1v45h-1zM1011 739h1v44h-1zM1015 739h1v40h-1zM1019 739h1v39h-1zM1023 739h1v34h-1zM1027 739h1v29h-1zM1031 739h1v24h-1zM1035 739h1v20h-1zM1039 739h1v19h-1zM1043 739h1v17h-1zM1047 739h1v18h-1zM1051 739h1v23h-1zM1055 739h1v25h-1zM1059 739h1v27h-1zM1063 739h1v32h-1zM1067 739h1v33h-1zM1071 739h1v35h-1zM1075 739h1v34h-1zM1079 739h1v39h-1zM1083 739h1v42h-1zM1087 739h1v39h-1zM1091 739h1v36h-1zM1095 739h1v36h-1zM1099 739h1v35h-1zM1103 739h1v37h-1zM1107 739h1v37h-1zM1111 739h1v39h-1zM1115 739h1v41h-1zM1119 739h1v44h-1zM1123 739h1v43h-1zM1127 739h1v42h-1zM1131 739h1v41h-1zM1135 739h1v37h-1zM1139 739h1v32h-1zM1143 739h1v27h-1zM1147 739h1v22h-1zM1151 739h1v21h-1zM1155 739h1v20h-1zM1159 739h1v20h-1zM1163 739h1v20h-1zM1167 739h1v23h-1zM1171 739h1v29h-1zM1175 739h1v35h-1zM1179 739h1v39h-1zM1183 739h1v39h-1zM1187 739h1v41h-1zM1191 739h1v40h-1zM1195 739h1v40h-1zM1199 739h1v39h-1zM1203 739h1v38h-1zM1207 739h1v40h-1zM1211 739h1v43h-1zM1215 739h1v45h-1zM1219 739h1v43h-1zM1223 739h1v44h-1zM1227 739h1v44h-1zM1231 739h1v41h-1zM1235 739h1v37h-1zM1239 739h1v36h-1zM1243 739h1v35h-1zM1247 739h1v33h-1zM1251 739h1v31h-1zM1255 739h1v29h-1zM1259 739h1v29h-1zM1263 739h1v29h-1zM1267 739h1v29h-1z"/></g><g clip-path="url(#cd)" fill="none" shape-rendering="crispEdges"><polyline stroke="#ff0000" stroke-width="1" stroke-dasharray="3,3" points="3,746.2 7,745.2 11,744.0 15,742.9 19,741.9 23,741.0 27,740.3 31,739.6 35,739.1 39,738.7 43,739.0 47,740.0 51,741.2 55,742.7 59,744.2 63,745.5 67,747.0 71,748.3 75,749.6 79,750.2 83,750.6 87,750.8 91,750.8 95,750.7 99,750.5 103,750.5 107,750.7 111,751.2 115,752.0 119,752.9 123,753.9 127,754.7 131,755.7 135,756.7 139,757.9 143,759.1 147,760.3 151,761.8 155,763.5 159,765.3 163,767.5 167,769.7 171,771.9 175,773.8 179,775.0 183,775.5 187,775.0 191,773.7 195,771.8 199,768.8 203,765.0 207,760.7 211,755.6 215,750.5 219,745.5 223,740.7 227,736.3 231,732.5 235,729.7 239,727.3 243,725.1 247,723.7 251,723.2 255,723.2 259,723.7 263,724.3 267,724.6 271,725.0 275,725.5 279,726.1 283,726.1 287,725.6 291,724.7 295,723.7 299,722.8 303,722.0 307,721.3 311,721.1 315,721.3 319,722.6 323,724.9 327,728.0 331,731.5 335,735.2 339,739.2 343,742.9 347,746.1 351,748.7 355,749.8 359,749.7 363,748.3 367,746.5 371,744.0 375,740.5 379,735.6 383,730.1 387,724.1 391,718.7 395,714.1 399,709.7 403,705.7 407,702.2 411,699.7 415,698.6 419,698.6 423,699.3 427,700.7 431,701.9 435,703.5 439,705.0 443,707.1 447,709.2 451,712.0 455,714.9 459,718.1 463,721.2 467,724.6 471,727.8 475,730.6 479,732.7 483,734.4 487,735.4 491,735.7 495,735.5 499,735.1 503,734.3 507,733.5 511,732.8 515,732.4 519,732.1 523,732.0 527,731.7 531,731.1 535,730.2 539,729.4 543,728.4 547,727.8 551,727.4 555,727.1 559,726.6 563,726.7 567,727.3 571,727.9 575,728.5 579,729.0 583,729.3 587,729.4 591,729.5 595,729.5 599,729.1 603,728.6 607,728.0 611,727.6 615,726.7 619,725.9 623,724.8 627,723.5 631,722.7 635,722.6 639,723.0 643,723.8 647,725.5 651,728.1 655,731.3 659,734.9 663,738.7 667,742.5 671,745.7 675,748.5 679,751.0 683,752.6 687,753.6 691,754.0 695,754.2 699,753.9 703,753.6 707,753.5 711,753.3 715,753.1 719,752.7 723,752.1 727,751.6 731,751.1 735,750.7 739,750.2 743,749.4 747,748.8 751,748.9 755,749.6 759,751.0 763,752.8 767,754.7 771,756.6 775,758.6 779,760.6 783,762.7 787,764.4 791,765.7 795,766.5 799,767.0 803,767.3 807,767.3 811,767.0 815,766.3 819,765.1 823,763.7 827,762.3 831,760.8 835,759.1 839,757.5 843,756.2 847,755.2 851,754.7 855,755.0 859,755.6 863,756.3 867,756.9 871,757.7 875,758.5 879,759.6 883,760.5 887,761.4 891,761.7 895,761.9 899,762.4 903,763.1 907,764.0 911,764.6 915,764.9 919,765.2 923,765.5 927,766.0 931,766.6 935,767.3 939,768.0 943,768.9 947,770.1 951,771.7 955,773.2 959,774.7 963,776.1 967,777.2 971,777.8 975,778.1 979,778.0 983,777.5 987,776.7 991,776.1 995,775.8 999,776.0 1003,776.5 1007,777.3 1011,778.0 1015,778.5 1019,778.9 1023,778.9 1027,778.2 1031,776.6 1035,774.1 1039,771.3 1043,768.1 1047,765.2 1051,763.3 1055,761.8 1059,761.0 1063,761.3 1067,762.4 1071,764.0 1075,765.7 1079,768.2 1083,770.9 1087,772.6 1091,773.7 1095,774.7 1099,775.1 1103,775.5 1107,775.7 1111,776.2 1115,776.4 1119,776.6 1123,777.1 1127,777.8 1131,778.4 1135,778.6 1139,778.1 1143,777.0 1147,775.2 1151,773.0 1155,770.4 1159,767.7 1163,765.2 1167,763.2 1171,762.4 1175,762.6 1179,764.0 1183,765.8 1187,768.0 1191,770.2 1195,772.5 1199,774.6 1203,776.3 1207,777.6 1211,778.5 1215,779.2 1219,779.7 1223,779.9 1227,780.4 1231,780.4 1235,780.3 1239,779.9 1243,779.3 1247,778.2 1251,776.7 1255,775.1 1259,773.5 1263,771.8 1267,770.5"/></g><rect x="1596" y="690" width="1" height="1" fill="#000"/><rect x="1596" y="739" width="1" height="1" fill="#000"/><rect x="1596" y="788" width="1" height="1" fill="#000"/><text x="1599" y="699" font-size="10" fill="#000" textLength="38" lengthAdjust="spacingAndGlyphs" stroke="#000" stroke-width="0.2">0.042275</text><text x="1599" y="743" font-size="10" fill="#000" textLength="18" lengthAdjust="spacingAndGlyphs" stroke="#000" stroke-width="0.2">0.00</text><text x="1599" y="786" font-size="10" fill="#000" textLength="36.5" lengthAdjust="spacingAndGlyphs" stroke="#000" stroke-width="0.2">-0.04148</text><text x="7.7" y="701" font-size="10" fill="#000" textLength="153.17" lengthAdjust="spacingAndGlyphs" stroke="#000" stroke-width="0.2">MACD(12,26,9) -0.024116 -0.026757</text><rect x="3" y="790" width="1" height="3" fill="#000"/><text x="2.3" y="802" font-size="10" fill="#000" textLength="52.45" lengthAdjust="spacingAndGlyphs" stroke="#000" stroke-width="0.2">30 Nov 2019</text><rect x="67" y="790" width="1" height="3" fill="#000"/><text x="66.3" y="802" font-size="10" fill="#000" textLength="52.45" lengthAdjust="spacingAndGlyphs" stroke="#000" stroke-width="0.2">19 Dec 2019</text><rect x="131" y="790" width="1" height="3" fill="#000"/><text x="130.3" y="802" font-size="10" fill="#000" textLength="45.77" lengthAdjust="spacingAndGlyphs" stroke="#000" stroke-width="0.2">7 Jan 2020</text><rect x="195" y="790" width="1" height="3" fill="#000"/><text x="194.3" y="802" font-size="10" fill="#000" textLength="50.92" lengthAdjust="spacingAndGlyphs" stroke="#000" stroke-width="0.2">25 Jan 2020</text><rect x="259" y="790" width="1" height="3" fill="#000"/><text x="258.3" y="802" font-size="10" fill="#000" textLength="51.94" lengthAdjust="spacingAndGlyphs" stroke="#000" stroke-width="0.2">13 Feb 2020</text><rect x="323" y="790" width="1" height="3" fill="#000"/><text x="322.3" y="802" font-size="10" fill="#000" textLength="46.79" lengthAdjust="spacingAndGlyphs" stroke="#000" stroke-width="0.2">3 Mar 2020</text><rect x="387" y="790" width="1" height="3" fill="#000"/><text x="386.3" y="802" font-size="10" fill="#000" textLength="51.93" lengthAdjust="spacingAndGlyphs" stroke="#000" stroke-width="0.2">21 Mar 2020</text><rect x="451" y="790" width="1" height="3" fill="#000"/><text x="450.3" y="802" font-size="10" fill="#000" textLength="44.74" lengthAdjust="spacingAndGlyphs" stroke="#000" stroke-width="0.2">9 Apr 2020</text><rect x="515" y="790" width="1" height="3" fill="#000"/><text x="514.3" y="802" font-size="10" fill="#000" textLength="49.89" lengthAdjust="spacingAndGlyphs" stroke="#000" stroke-width="0.2">28 Apr 2020</text><rect x="579" y="790" width="1" height="3" fill="#000"/><text x="578.3" y="802" font-size="10" fill="#000" textLength="53.48" lengthAdjust="spacingAndGlyphs" stroke="#000" stroke-width="0.2">16 May 2020</text><rect x="643" y="790" width="1" height="3" fill="#000"/><text x="642.3" y="802" font-size="10" fill="#000" textLength="45.77" lengthAdjust="spacingAndGlyphs" stroke="#000" stroke-width="0.2">4 Jun 2020</text><rect x="707" y="790" width="1" height="3" fill="#000"/><text x="706.3" y="802" font-size="10" fill="#000" textLength="50.92" lengthAdjust="spacingAndGlyphs" stroke="#000" stroke-width="0.2">23 Jun 2020</text><rect x="771" y="790" width="1" height="3" fill="#000"/><text x="770.3" y="802" font-size="10" fill="#000" textLength="47.14" lengthAdjust="spacingAndGlyphs" stroke="#000" stroke-width="0.2">11 Jul 2020</text><rect x="835" y="790" width="1" height="3" fill="#000"/><text x="834.3" y="802" font-size="10" fill="#000" textLength="47.83" lengthAdjust="spacingAndGlyphs" stroke="#000" stroke-width="0.2">30 Jul 2020</text><rect x="899" y="790" width="1" height="3" fill="#000"/><text x="898.3" y="802" font-size="10" fill="#000" textLength="51.95" lengthAdjust="spacingAndGlyphs" stroke="#000" stroke-width="0.2">18 Aug 2020</text><rect x="963" y="790" width="1" height="3" fill="#000"/><text x="962.3" y="802" font-size="10" fill="#000" textLength="47.32" lengthAdjust="spacingAndGlyphs" stroke="#000" stroke-width="0.2">5 Sep 2020</text><rect x="1027" y="790" width="1" height="3" fill="#000"/><text x="1026.3" y="802" font-size="10" fill="#000" textLength="52.46" lengthAdjust="spacingAndGlyphs" stroke="#000" stroke-width="0.2">24 Sep 2020</text><rect x="1091" y="790" width="1" height="3" fill="#000"/><text x="1090.3" y="802" font-size="10" fill="#000" textLength="50.39" lengthAdjust="spacingAndGlyphs" stroke="#000" stroke-width="0.2">13 Oct 2020</text><rect x="1155" y="790" width="1" height="3" fill="#000"/><text x="1154.3" y="802" font-size="10" fill="#000" textLength="50.39" lengthAdjust="spacingAndGlyphs" stroke="#000" stroke-width="0.2">31 Oct 2020</text><rect x="1219" y="790" width="1" height="3" fill="#000"/><text x="1218.3" y="802" font-size="10" fill="#000" textLength="52.45" lengthAdjust="spacingAndGlyphs" stroke="#000" stroke-width="0.2">19 Nov 2020</text><rect x="0" y="810" width="1636" height="1" fill="#e3e3e3"/><rect x="0" y="813" width="1636" height="19" fill="#f0f0f0"/><rect x="0" y="813" width="1636" height="1" fill="#ffffff"/><rect x="0" y="812" width="1636" height="1" fill="#000000"/><rect x="0" y="832" width="1636" height="1" fill="#f5f5f5"/><rect x="416" y="812" width="104" height="19" fill="#ffffff"/><rect x="415" y="813" width="1" height="18" fill="#ffffff"/><rect x="416" y="812" width="1" height="19" fill="#000000"/><rect x="519" y="812" width="1" height="19" fill="#000000"/><rect x="416" y="830" width="104" height="1" fill="#000000"/><rect x="108" y="815" width="1" height="15" fill="#6a6a6a"/><rect x="208" y="815" width="1" height="15" fill="#6a6a6a"/><rect x="312" y="815" width="1" height="15" fill="#6a6a6a"/><rect x="625" y="815" width="1" height="15" fill="#6a6a6a"/><rect x="716" y="815" width="1" height="15" fill="#6a6a6a"/><rect x="808" y="815" width="1" height="15" fill="#6a6a6a"/><rect x="881" y="815" width="1" height="15" fill="#6a6a6a"/><rect x="960" y="815" width="1" height="15" fill="#6a6a6a"/><rect x="1040" y="815" width="1" height="15" fill="#6a6a6a"/><rect x="1121" y="815" width="1" height="15" fill="#6a6a6a"/><rect x="1197" y="815" width="1" height="15" fill="#6a6a6a"/><rect x="1280" y="815" width="1" height="15" fill="#6a6a6a"/><rect x="1364" y="815" width="1" height="15" fill="#6a6a6a"/><rect x="1444" y="815" width="1" height="15" fill="#6a6a6a"/><rect x="1544" y="815" width="1" height="15" fill="#6a6a6a"/><text x="16.7" y="827" font-size="12.8" fill="#6d6d6d" textLength="78.7" lengthAdjust="spacingAndGlyphs">EURUSD,Daily</text><text x="118.1" y="827" font-size="12.8" fill="#6d6d6d" textLength="79.1" lengthAdjust="spacingAndGlyphs">USDCHF,Daily</text><text x="219.5" y="827" font-size="12.8" fill="#6d6d6d" textLength="81.4" lengthAdjust="spacingAndGlyphs">AUDUSD,Daily</text><text x="323.5" y="827" font-size="12.8" fill="#6d6d6d" textLength="80.4" lengthAdjust="spacingAndGlyphs">USDCAD,Daily</text><text x="426.5" y="827" font-size="12.8" fill="#000000" textLength="82.6" lengthAdjust="spacingAndGlyphs">USDCNH,Daily</text><text x="532.2" y="827" font-size="12.8" fill="#6d6d6d" textLength="79.6" lengthAdjust="spacingAndGlyphs">EURUSD,Daily</text><text x="636.2" y="827" font-size="12.8" fill="#6d6d6d" textLength="68" lengthAdjust="spacingAndGlyphs">GBPUSD,H4</text><text x="727.3" y="827" font-size="12.8" fill="#6d6d6d" textLength="68.1" lengthAdjust="spacingAndGlyphs">XAUUSD,H1</text><text x="819.3" y="827" font-size="12.8" fill="#6d6d6d" textLength="49.5" lengthAdjust="spacingAndGlyphs">HK50,H1</text><text x="891.1" y="827" font-size="12.8" fill="#6d6d6d" textLength="56.5" lengthAdjust="spacingAndGlyphs">UK100,H1</text><text x="971.5" y="827" font-size="12.8" fill="#6d6d6d" textLength="56.2" lengthAdjust="spacingAndGlyphs">UK100,H1</text><text x="1051.6" y="827" font-size="12.8" fill="#6d6d6d" textLength="56" lengthAdjust="spacingAndGlyphs">GER30,H1</text><text x="1130.7" y="827" font-size="12.8" fill="#6d6d6d" textLength="53.6" lengthAdjust="spacingAndGlyphs">FRA40,H1</text><text x="1207.5" y="827" font-size="12.8" fill="#6d6d6d" textLength="61.1" lengthAdjust="spacingAndGlyphs">USOil,Daily</text><text x="1290.5" y="827" font-size="12.8" fill="#6d6d6d" textLength="62.1" lengthAdjust="spacingAndGlyphs">USDJPY,H1</text><text x="1374.7" y="827" font-size="12.8" fill="#6d6d6d" textLength="58.2" lengthAdjust="spacingAndGlyphs">DJ30,Daily</text><text x="1454.3" y="827" font-size="12.8" fill="#6d6d6d" textLength="78" lengthAdjust="spacingAndGlyphs">CHINA300,H1</text><text x="1554.4" y="827" font-size="12.8" fill="#6d6d6d" textLength="49.3" lengthAdjust="spacingAndGlyphs">USOil,H1</text><path d="M1610.6 821 L1614 817.8 L1614 824.2 Z" fill="#a0a0a0"/><path d="M1629.8 817.4 L1633.4 820.8 L1629.8 824.2 Z" fill="#000"/></svg></body></html>
